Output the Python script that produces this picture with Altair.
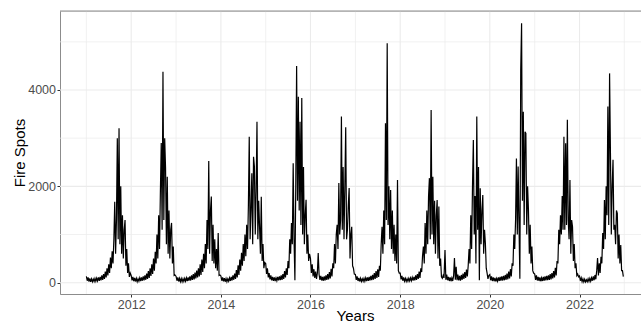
import altair as alt
import pandas as pd

# Weekly fire-spot readings (52 per year, starting Jan 1 of each year)
y2011 = [130, 40, 110, 20, 90, 15, 80, 20, 75, 25,
         90, 30, 95, 35, 110, 40, 120, 50, 150, 60,
         180, 80, 230, 110, 300, 150, 380,
         200, 520, 300, 650, 400, 900, 1680, 600, 1300,
         3000, 900, 3205, 800, 2000, 600, 1400, 500, 1100,
         1300, 350, 700, 200, 400, 120, 200]
y2012 = [150, 50, 120, 30, 100, 25, 90, 20, 80, 30,
         100, 35, 110, 40, 130, 50, 150, 60, 190, 80,
         240, 100, 300, 140, 380, 180, 500,
         250, 640, 400, 1000, 500, 1400, 700, 1900, 2900,
         1100, 4380, 1300, 3000, 2380, 800, 2200, 600, 1500,
         500, 1100, 1240, 400, 750, 150, 160]
y2013 = [130, 40, 110, 25, 90, 20, 85, 20, 80, 25,
         90, 30, 100, 35, 110, 40, 130, 45, 150, 60,
         180, 70, 210, 90, 250, 110, 300, 130,
         380, 160, 480, 220, 600, 300, 800, 400,
         1300, 700, 2525, 600, 1500, 1790, 450, 1200, 400,
         900, 300, 700, 250, 1030, 150, 160]
y2014 = [140, 40, 110, 25, 95, 20, 85, 20, 80, 30,
         100, 35, 120, 45, 150, 60, 190, 80, 260, 110,
         360, 160, 480, 250, 620, 350, 800, 450,
         1000, 550, 1200, 700, 1600, 3030, 900, 1500,
         2270, 800, 2615, 2410, 1000, 1900, 3340, 900, 1700,
         1160, 600, 1785, 450, 800, 300, 420]
y2015 = [400, 180, 300, 110, 200, 70, 150, 50, 120, 40,
         110, 35, 100, 40, 120, 50, 130, 55, 150, 60,
         180, 80, 240, 110, 300, 160, 450, 300,
         900, 600, 1240, 800, 2480, 900, 50, 2000,
         4500, 1700, 3860, 1500, 3340, 1200, 3835, 1000, 2400,
         800, 1400, 1720, 600, 1000, 450, 600]
y2016 = [500, 200, 380, 130, 280, 100, 230, 80, 200, 615,
         170, 60, 140, 45, 120, 40, 130, 45, 150, 60,
         180, 70, 220, 90, 290, 130, 400, 300,
         800, 400, 1000, 1200, 700, 2070, 1000, 1300,
         3450, 1100, 2400, 900, 2000, 3225, 900, 1100, 1600,
         1965, 500, 1000, 1160, 350, 300, 180]
y2017 = [170, 60, 130, 35, 100, 25, 90, 25, 80, 30,
         90, 30, 100, 35, 110, 40, 120, 45, 140, 55,
         160, 65, 200, 80, 240, 100, 280, 120, 350,
         250, 800, 1160, 600, 1500, 800, 3310,
         1300, 4970, 1200, 2000, 900, 1925, 700, 1500, 600,
         1200, 450, 1000, 400, 2130, 250, 200]
y2018 = [200, 70, 140, 40, 110, 30, 90, 25, 80, 30,
         90, 35, 100, 40, 110, 45, 120, 50, 150, 60,
         180, 80, 230, 100, 300, 220, 560, 750,
         400, 1240, 600, 1500, 800, 1800, 2170, 900,
         3585, 1000, 2200, 800, 1700, 600, 1400, 1715, 500,
         1580, 350, 500, 120, 90, 150, 100]
y2019 = [680, 60, 170, 50, 120, 35, 110, 30, 100, 35,
         140, 510, 60, 330, 50, 170, 45, 140, 40, 160,
         60, 190, 80, 220, 100, 270, 130, 350,
         700, 400, 1400, 700, 2000, 2960, 1000, 1800,
         400, 3450, 1100, 2400, 50, 1960, 800, 1500, 1820,
         600, 1100, 820, 300, 200, 80, 150]
y2020 = [170, 50, 130, 35, 110, 30, 100, 25, 90, 30,
         110, 35, 120, 40, 130, 45, 140, 50, 160, 60,
         190, 70, 230, 90, 280, 130, 400, 350,
         1000, 700, 1300, 2580, 1000, 2410, 1200, 80,
         4415, 5385, 1700, 3550, 1200, 3135, 3100, 1000, 2000,
         1510, 600, 1200, 400, 750, 250, 200]
y2021 = [180, 60, 150, 45, 120, 35, 110, 30, 100, 35,
         120, 40, 130, 50, 140, 55, 150, 60, 180, 70,
         200, 90, 240, 110, 310, 150, 450, 400,
         1100, 800, 1400, 1000, 1800, 1100, 3030, 1100,
         2895, 1200, 3380, 1300, 900, 2130, 600, 1300, 1160,
         450, 800, 300, 400, 150, 180, 120]
y2022 = [140, 40, 100, 20, 80, 15, 70, 15, 60, 20,
         80, 25, 90, 30, 100, 40, 130, 50, 160, 70,
         250, 510, 150, 400, 200, 540, 400, 1030,
         700, 1715, 900, 2000, 1400, 3655, 1200, 4345,
         2690, 1000, 2000, 2550, 1100, 1200, 800, 1500, 1440,
         500, 1000, 400, 780, 250, 250, 125]

series = {2011: y2011, 2012: y2012, 2013: y2013, 2014: y2014,
          2015: y2015, 2016: y2016, 2017: y2017, 2018: y2018,
          2019: y2019, 2020: y2020, 2021: y2021, 2022: y2022}

rows = []
for yr, vals in series.items():
    start = pd.Timestamp(yr, 1, 1)
    for i, v in enumerate(vals):
        rows.append({"date": start + pd.Timedelta(days=7 * i), "fire": v})
df = pd.DataFrame(rows)

label_years = [2012, 2014, 2016, 2018, 2020, 2022]
minor_years = [2011, 2013, 2015, 2017, 2019, 2021, 2023]
y_major = [0, 2000, 4000]
y_minor = [1000, 3000, 5000]

font = "Liberation Sans"
x_scale = alt.Scale(domain=[alt.DateTime(year=2010, month=5, date=31),
                            alt.DateTime(year=2023, month=5, date=17)])
y_scale = alt.Scale(domain=[-235, 5640], nice=False, zero=False)

xenc = alt.X("date:T", title="Years", scale=x_scale,
             axis=alt.Axis(values=[alt.DateTime(year=y, month=1, date=1) for y in label_years],
                           format="%Y", grid=False, labelFontSize=12.5, labelColor="#4d4d4d",
                           labelFont=font, tickColor="#333333", tickSize=3, tickWidth=1,
                           labelPadding=1.5, domainColor="#8c8c8c", domainWidth=1,
                           labelFlush=False, labelOverlap=False,
                           titleFont=font, titleFontSize=15, titleFontWeight="normal",
                           titleColor="black", titleX=295, titleY=26.4,
                           titleBaseline="alphabetic", titleAlign="center"))
yenc = alt.Y("fire:Q", title="Fire Spots", scale=y_scale,
             axis=alt.Axis(values=y_major, format="d", grid=False, labelFontSize=12.5,
                           labelColor="#4d4d4d",
                           labelFont=font, tickColor="#333333", tickSize=3, tickWidth=1,
                           labelPadding=1.5, domainColor="#8c8c8c", domainWidth=1,
                           titleFont=font, titleFontSize=15, titleFontWeight="normal",
                           titleColor="black", titleX=-36, titleY=141.5, titleAngle=270,
                           titleBaseline="alphabetic", titleAlign="center"))

gx_major = pd.DataFrame({"date": [pd.Timestamp(y, 1, 1) for y in label_years]})
gx_minor = pd.DataFrame({"date": [pd.Timestamp(y, 1, 1) for y in minor_years]})
gy_major = pd.DataFrame({"fire": y_major})
gy_minor = pd.DataFrame({"fire": y_minor})

grid_minor_x = alt.Chart(gx_minor).mark_rule(color="#EBEBEB", strokeWidth=0.7).encode(x=xenc)
grid_major_x = alt.Chart(gx_major).mark_rule(color="#EBEBEB", strokeWidth=1.1).encode(x=xenc)
grid_minor_y = alt.Chart(gy_minor).mark_rule(color="#EBEBEB", strokeWidth=0.7).encode(y=yenc)
grid_major_y = alt.Chart(gy_major).mark_rule(color="#EBEBEB", strokeWidth=1.1).encode(y=yenc)

line = alt.Chart(df).mark_line(color="black", strokeWidth=1.2, clip=True).encode(x=xenc, y=yenc)

top_border = alt.Chart(pd.DataFrame({"a": [0]})).mark_rule(
    color="#8c8c8c", strokeWidth=1).encode(y=alt.value(0))

chart = alt.layer(grid_minor_x, grid_major_x, grid_minor_y, grid_major_y, line, top_border).properties(
    width=581, height=283,
    autosize=alt.AutoSizeParams(type="none"),
    padding={"left": 60, "top": 11, "right": 0, "bottom": 30},
).configure_view(stroke=None).configure(font=font, background="white")

chart.save("out.html", embed_options={"renderer": "svg", "actions": False})
